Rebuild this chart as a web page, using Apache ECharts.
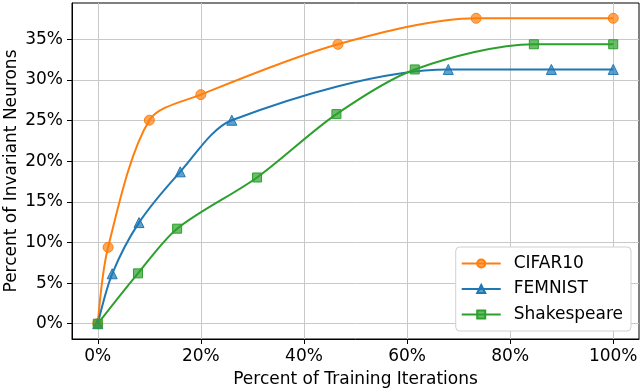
<!DOCTYPE html>
<html>
<head>
<meta charset="utf-8">
<script src="https://cdn.jsdelivr.net/npm/echarts@6/dist/echarts.min.js"></script>
<style>
  html, body { margin: 0; padding: 0; background: #fff; }
  #chart { width: 640px; height: 389px; }
</style>
</head>
<body>
<div id="chart"></div>
<script>
// values (percent of training iterations -> percent of invariant neurons)
var cifarX = [0, 2, 10, 20, 46.6, 73.4, 100];
var cifarY = [0, 9.4, 25.05, 28.2, 34.4, 37.6, 37.6];
var femnistX = [0, 2.8, 8, 16, 26, 68, 88, 100];
var femnistY = [0, 6.15, 12.45, 18.7, 25.05, 31.3, 31.3, 31.3];
var shakeX = [0, 7.8, 15.4, 30.9, 46.3, 61.5, 84.6, 100];
var shakeY = [0, 6.2, 11.7, 18, 25.8, 31.3, 34.4, 34.4];
var xTicks = [0, 20, 40, 60, 80, 100];
var yTicks = [0, 5, 10, 15, 20, 25, 30, 35];

function pairs(xs, ys) {
  return xs.map(function (x, i) { return [x, ys[i]]; });
}

var chart = echarts.init(document.getElementById('chart'));
var font = 'DejaVu Sans';

function mkSeries(name, data, color, symbol, size) {
  return {
    name: name,
    type: 'line',
    data: data,
    smooth: 0.3,
    symbol: symbol,
    symbolSize: size,
    showAllSymbol: true,
    lineStyle: { color: color, width: 2 },
    itemStyle: { color: echarts.color.modifyAlpha(color, 0.7), borderColor: color, borderWidth: 1 }
  };
}

chart.setOption({
  animation: false,
  backgroundColor: '#fff',
  textStyle: { fontFamily: font },
  grid: {
    left: 72, right: 1, top: 3, bottom: 50,
    outerBoundsMode: 'none',
    show: true, borderColor: '#000', borderWidth: 1
  },
  xAxis: {
    type: 'value',
    min: -5,
    max: 105,
    name: 'Percent of Training Iterations',
    nameLocation: 'middle',
    nameGap: 32,
    nameMoveOverlap: false,
    nameTextStyle: { fontSize: 17, color: '#000', fontFamily: font },
    axisLine: { show: true, onZero: false, lineStyle: { color: '#000' } },
    axisTick: { show: true, length: 5, lineStyle: { color: '#000' }, customValues: xTicks },
    axisLabel: { customValues: xTicks, fontSize: 17, color: '#000', margin: 9, formatter: '{value}%' },
    splitLine: { show: true, lineStyle: { color: '#c8c8c8', width: 1 } }
  },
  yAxis: {
    type: 'value',
    min: -1.88,
    max: 39.48,
    name: 'Percent of Invariant Neurons',
    nameLocation: 'middle',
    nameGap: 52,
    nameMoveOverlap: false,
    nameTextStyle: { fontSize: 17, color: '#000', fontFamily: font },
    axisLine: { show: true, onZero: false, lineStyle: { color: '#000' } },
    axisTick: { show: true, length: 5, lineStyle: { color: '#000' }, customValues: yTicks },
    axisLabel: { customValues: yTicks, fontSize: 17, color: '#000', margin: 9, formatter: '{value}%' },
    splitLine: { show: true, lineStyle: { color: '#c8c8c8', width: 1 } }
  },
  legend: {
    orient: 'vertical',
    right: 9,
    bottom: 58,
    itemWidth: 39,
    itemHeight: 10,
    itemGap: 8.5,
    padding: [8, 8, 8, 5],
    backgroundColor: '#fff',
    borderColor: '#d0d0d0',
    borderWidth: 1,
    borderRadius: 4,
    textStyle: { fontSize: 17, color: '#000', fontFamily: font, padding: [0, 0, 0, 8] },
    data: ['CIFAR10', 'FEMNIST', 'Shakespeare']
  },
  series: [
    mkSeries('CIFAR10', pairs(cifarX, cifarY), '#ff7f0e', 'circle', 10),
    mkSeries('FEMNIST', pairs(femnistX, femnistY), '#1f77b4', 'triangle', 10),
    mkSeries('Shakespeare', pairs(shakeX, shakeY), '#2ca02c', 'rect', 9)
  ]
});
</script>
</body>
</html>
